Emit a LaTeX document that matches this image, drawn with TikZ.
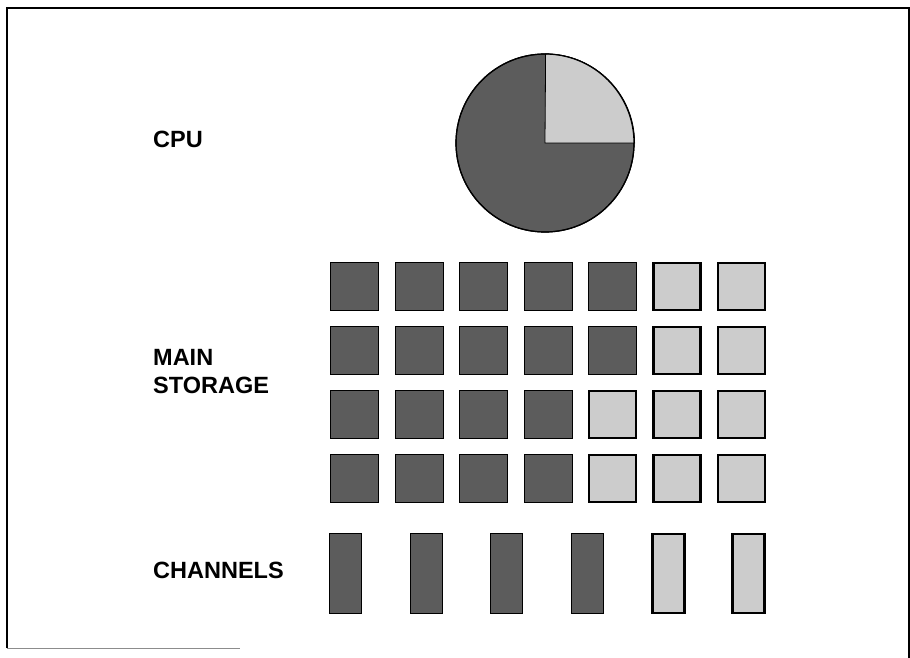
\documentclass[tikz,border=0pt]{standalone}
\usepackage{fontspec}
\setmainfont{Liberation Sans}
\usepackage{tikz}
\usetikzlibrary{shapes}

\definecolor{dk}{gray}{0.36}
\definecolor{lt}{gray}{0.80}

\tikzset{
	dkcell/.style={rectangle,draw,fill=dk,line width=1pt,minimum width=48pt,minimum height=48pt,inner sep=0pt},
	ltcell/.style={rectangle,draw,fill=lt,line width=2.2pt,minimum width=47pt,minimum height=47pt,inner sep=0pt},
	dkchan/.style={rectangle,draw,fill=dk,line width=1pt,minimum width=32pt,minimum height=80pt,inner sep=0pt},
	ltchan/.style={rectangle,draw,fill=lt,line width=2.2pt,minimum width=32pt,minimum height=79pt,inner sep=0pt},
	lbl/.style={font=\fontsize{23.5}{28}\selectfont\bfseries,inner sep=0pt,align=left}
}

\begin{document}
\begin{tikzpicture}[x=1pt,y=-1pt]
		
			\useasboundingbox (0,0) rectangle (910,658);
			\draw[line width=2pt] (7,648) -- (7,8) -- (909,8) -- (909,658);
			\draw[black!45,line width=1pt] (7,648) -- (240,648);
			
			\node[lbl,anchor=base west] (lcpu) at (153,148) {CPU};
			\node[lbl,anchor=base west] (lmain) at (153,393) {MAIN\\STORAGE};
			\node[lbl,anchor=base west] (lchan) at (153,578) {CHANNELS};
			
			\node[circle,draw,fill=dk,line width=1.2pt,minimum size=178pt,inner sep=0pt] (cpu) at (545,143) {};
			\filldraw[fill=lt,line width=0.8pt] (cpu.center) -- (cpu.east) arc[start angle=0,end angle=-90,radius=89] -- cycle;
			\draw[line width=1.2pt] (cpu) circle[radius=89];
			
			\node[dkcell] (s11) at (354.5,286.5) {};
			\node[dkcell] (s12) at (419,286.5) {};
			\node[dkcell] (s13) at (483.5,286.5) {};
			\node[dkcell] (s14) at (548,286.5) {};
			\node[dkcell] (s15) at (612.5,286.5) {};
			\node[ltcell] (s16) at (677,286.5) {};
			\node[ltcell] (s17) at (741.5,286.5) {};
			
			\node[dkcell] (s21) at (354.5,350.5) {};
			\node[dkcell] (s22) at (419,350.5) {};
			\node[dkcell] (s23) at (483.5,350.5) {};
			\node[dkcell] (s24) at (548,350.5) {};
			\node[dkcell] (s25) at (612.5,350.5) {};
			\node[ltcell] (s26) at (677,350.5) {};
			\node[ltcell] (s27) at (741.5,350.5) {};
			
			\node[dkcell] (s31) at (354.5,414.5) {};
			\node[dkcell] (s32) at (419,414.5) {};
			\node[dkcell] (s33) at (483.5,414.5) {};
			\node[dkcell] (s34) at (548,414.5) {};
			\node[ltcell] (s35) at (612.5,414.5) {};
			\node[ltcell] (s36) at (677,414.5) {};
			\node[ltcell] (s37) at (741.5,414.5) {};
			
			\node[dkcell] (s41) at (354.5,478.5) {};
			\node[dkcell] (s42) at (419,478.5) {};
			\node[dkcell] (s43) at (483.5,478.5) {};
			\node[dkcell] (s44) at (548,478.5) {};
			\node[ltcell] (s45) at (612.5,478.5) {};
			\node[ltcell] (s46) at (677,478.5) {};
			\node[ltcell] (s47) at (741.5,478.5) {};
			
			\node[dkchan] (ch1) at (345.5,573.5) {};
			\node[dkchan] (ch2) at (426,573.5) {};
			\node[dkchan] (ch3) at (506.5,573.5) {};
			\node[dkchan] (ch4) at (587.5,573.5) {};
			\node[ltchan] (ch5) at (668.5,573.5) {};
			\node[ltchan] (ch6) at (748.5,573.5) {};
		
		\end{tikzpicture}
\end{document}
